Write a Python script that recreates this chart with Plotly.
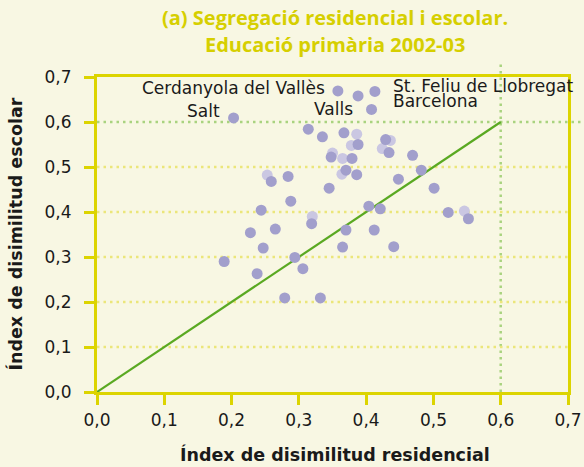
import plotly.graph_objects as go

# Residential (x) and school (y) dissimilarity index, municipalities
res_dark = [0.203, 0.358, 0.388, 0.413, 0.408, 0.314, 0.335, 0.367, 0.348, 0.259,
            0.284, 0.345, 0.288, 0.244, 0.319, 0.388, 0.429, 0.434, 0.379, 0.370,
            0.386, 0.469, 0.482, 0.448, 0.501, 0.404, 0.421, 0.522, 0.552, 0.370,
            0.412, 0.365, 0.441, 0.306, 0.332, 0.228, 0.265, 0.247, 0.189, 0.294,
            0.238, 0.279]
esc_dark = [0.609, 0.669, 0.658, 0.668, 0.628, 0.584, 0.567, 0.576, 0.522, 0.468,
            0.479, 0.453, 0.424, 0.404, 0.374, 0.550, 0.561, 0.532, 0.519, 0.493,
            0.483, 0.526, 0.493, 0.473, 0.453, 0.413, 0.407, 0.399, 0.385, 0.360,
            0.360, 0.322, 0.323, 0.274, 0.209, 0.354, 0.362, 0.320, 0.290, 0.299,
            0.263, 0.209]
res_light = [0.350, 0.365, 0.253, 0.364, 0.320, 0.386, 0.378, 0.436, 0.424, 0.546]
esc_light = [0.531, 0.519, 0.482, 0.484, 0.390, 0.573, 0.548, 0.559, 0.541, 0.402]

diag_x = [0.0, 0.6]
diag_y = [0.0, 0.6]

tick_vals = [0.0, 0.1, 0.2, 0.3, 0.4, 0.5, 0.6, 0.7]
tick_text = ["0,0", "0,1", "0,2", "0,3", "0,4", "0,5", "0,6", "0,7"]
grid_vals = [0.1, 0.2, 0.3, 0.4, 0.5]

labels = ["Cerdanyola del Vallès", "Salt", "Valls", "St. Feliu de Llobregat", "Barcelona"]
title_lines = ["(a) Segregació residencial i escolar.", "Educació primària 2002-03"]
x_title = "Índex de disimilitud residencial"
y_title = "Índex de disimilitud escolar"

BG = "#f8f7e3"
YEL = "#dcd400"
TXT = "#1a1a1a"
FONT = "DejaVu Sans"

fig = go.Figure()
fig.add_trace(go.Scatter(x=diag_x, y=diag_y, mode="lines",
                         line=dict(color="#5aa922", width=2.2), hoverinfo="skip"))
fig.add_trace(go.Scatter(x=res_light, y=esc_light, mode="markers",
                         marker=dict(color="#cac7e2", size=11, line=dict(width=0))))
fig.add_trace(go.Scatter(x=res_dark, y=esc_dark, mode="markers",
                         marker=dict(color="#a29fcc", size=11, line=dict(width=0))))

DOT = "2.5px,4px"
shapes = []
for g in grid_vals:
    shapes.append(dict(type="line", xref="x", yref="y", x0=0, x1=0.7, y0=g, y1=g,
                       line=dict(color="#ebe67a", width=2.5, dash=DOT), layer="below"))
shapes.append(dict(type="line", xref="paper", yref="y", x0=0, x1=1.04, y0=0.6, y1=0.6,
                   line=dict(color="#a9d37f", width=2.5, dash=DOT), layer="below"))
shapes.append(dict(type="line", xref="x", yref="paper", x0=0.6, x1=0.6, y0=0, y1=1.04,
                   line=dict(color="#a9d37f", width=2.5, dash=DOT), layer="below"))

annotations = []
lab_pos = [(0.342, 0.675, "right"), (0.186, 0.624, "right"), (0.383, 0.630, "right"),
           (0.437, 0.679, "left"), (0.437, 0.646, "left")]
for name, (lx, ly, anc) in zip(labels, lab_pos):
    annotations.append(dict(x=lx, y=ly, xref="x", yref="y", text=name, xanchor=anc,
                            yanchor="middle", showarrow=False,
                            font=dict(family=FONT, size=17, color=TXT)))

# title (two lines)
annotations.append(dict(x=0.505, y=1.19, xref="paper", yref="paper", text=title_lines[0],
                        xanchor="center", yanchor="middle", showarrow=False,
                        font=dict(family="Open Sans", size=20, color="#d6cf00", weight="bold")))
annotations.append(dict(x=0.505, y=1.103, xref="paper", yref="paper", text=title_lines[1],
                        xanchor="center", yanchor="middle", showarrow=False,
                        font=dict(family="Open Sans", size=20, color="#d6cf00", weight="bold")))
# axis titles
annotations.append(dict(x=0.505, y=-0.197, xref="paper", yref="paper", text=x_title,
                        xanchor="center", yanchor="middle", showarrow=False,
                        font=dict(family=FONT, size=17.5, color=TXT, weight="bold")))
annotations.append(dict(x=-0.174, y=0.5, xref="paper", yref="paper", text=y_title,
                        xanchor="center", yanchor="middle", showarrow=False, textangle=-90,
                        font=dict(family=FONT, size=17.5, color=TXT, weight="bold")))

fig.update_layout(
    width=584, height=467,
    paper_bgcolor=BG, plot_bgcolor=BG,
    margin=dict(l=97, r=16, t=77, b=75, autoexpand=False),
    showlegend=False,
    shapes=shapes,
    annotations=annotations,
    font=dict(family=FONT, size=17, color=TXT),
)
common = dict(range=[0, 0.7], tickvals=tick_vals, ticktext=tick_text, automargin=False,
              showgrid=False, zeroline=False, showline=True, linecolor=YEL, linewidth=3,
              mirror=True, ticks="outside", ticklen=10, tickwidth=3, tickcolor=YEL,
              tickfont=dict(family=FONT, size=17, color=TXT))
fig.update_xaxes(**common, ticklabelstandoff=1)
fig.update_yaxes(**common, ticklabelstandoff=9)

fig.write_html("out.html",
               config={"displayModeBar": False, "staticPlot": True},
               post_script="document.body.style.margin='0';"
                           "document.body.style.padding='0';"
                           "document.body.style.background='#f8f7e3';")
